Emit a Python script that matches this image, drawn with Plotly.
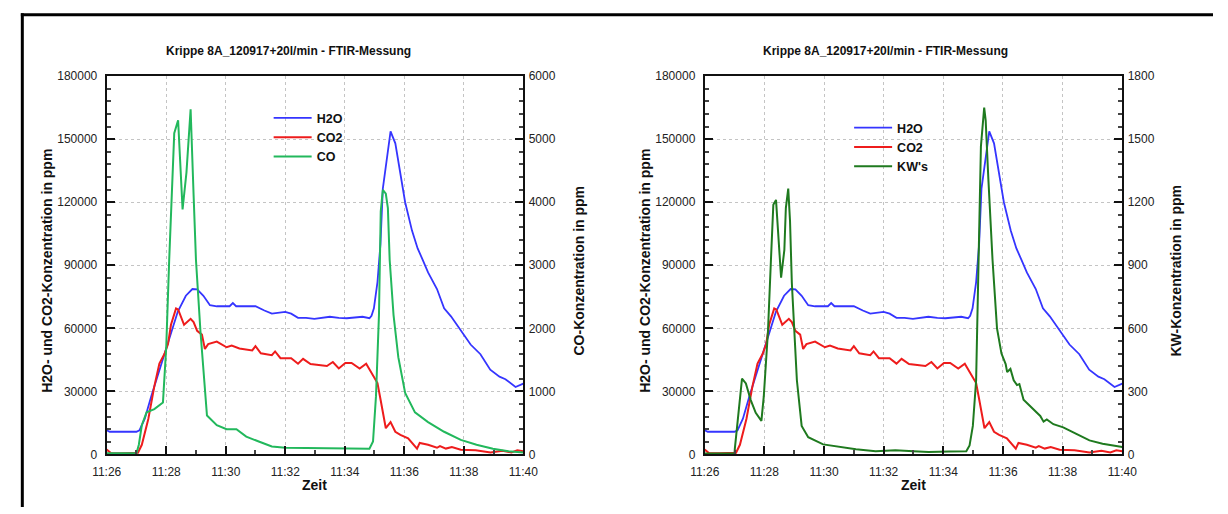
import pandas as pd
import plotly.graph_objects as go

# ---------------- data (minutes after 11:26, ppm) ----------------
BASE = pd.Timestamp("2012-09-17 11:26:00")

t_h2o = [0.0, 0.1, 0.5, 1.0, 1.1, 1.28, 1.5, 1.77, 2.06, 2.39, 2.66, 2.88, 3.04, 3.25, 3.47,
         3.7, 4.13, 4.24, 4.35, 5.0, 5.3, 5.55, 6.0, 6.2, 6.43, 6.7, 6.98, 7.5, 7.8, 8.07,
         8.6, 8.75, 8.83, 8.9, 8.98, 9.1, 9.2, 9.28, 9.4, 9.54, 9.7, 9.85, 10.03, 10.26,
         10.45, 10.62, 10.8, 11.1, 11.34, 11.57, 11.9, 12.23, 12.56, 12.89, 13.2, 13.4,
         13.74, 14.0]
h2o = [11500, 10800, 10800, 10800, 11500, 17000, 27800, 40000, 54000, 68000, 75500, 78700,
       78500, 75500, 71000, 70500, 70500, 72000, 70500, 70500, 68500, 67000, 67800, 67000,
       65000, 65000, 64500, 65500, 65000, 64800, 65500, 65000, 64800, 66000, 69500, 82000,
       100000, 126500, 140000, 153700, 148000, 135000, 120000, 106500, 98000, 92600, 86600,
       78700, 69500, 65700, 58800, 52300, 47700, 40300, 37000, 35800, 32100, 33700]

t_co2 = [0.0, 0.15, 0.5, 1.0, 1.05, 1.18, 1.4, 1.6, 1.77, 1.94, 2.06, 2.16, 2.33, 2.4, 2.6,
         2.82, 2.92, 3.04, 3.2, 3.3, 3.41, 3.7, 4.03, 4.2, 4.46, 4.89, 5.0, 5.18, 5.55, 5.66,
         5.84, 6.2, 6.43, 6.6, 6.85, 7.4, 7.6, 7.8, 8.02, 8.23, 8.5, 8.72, 8.95, 9.1, 9.2,
         9.38, 9.54, 9.7, 9.87, 10.13, 10.43, 10.52, 10.8, 11.1, 11.2, 11.4, 11.6, 11.9,
         12.4, 12.9, 13.3, 13.6, 13.8, 14.0]
co2 = [2300, 600, 600, 600, 800, 4600, 17000, 32400, 43200, 47800, 52500, 61700, 69500,
       69000, 61700, 64500, 63000, 58800, 57000, 50200, 52500, 53700, 51000, 51800, 50400,
       49500, 51500, 48100, 47200, 49000, 45800, 45800, 43200, 45500, 43000, 42100, 44000,
       40900, 43500, 43500, 40900, 43200, 37900, 34000, 26400, 12500, 15400, 10800, 9300,
       7700, 2800, 5500, 4600, 3200, 4000, 2800, 3500, 2300, 2000, 1000, 1800, 1000, 2000,
       1500]

t_co = [0.0, 1.0, 1.08, 1.18, 1.34, 1.6, 1.89, 2.0, 2.1, 2.16, 2.27, 2.4, 2.55, 2.68, 2.82,
        2.92, 3.0, 3.15, 3.37, 3.7, 4.03, 4.36, 4.69, 5.11, 5.55, 6.0, 7.0, 8.0, 8.83, 8.95,
        9.05, 9.15, 9.21, 9.28, 9.38, 9.45, 9.51, 9.64, 9.8, 10.03, 10.36, 10.8, 11.34,
        11.9, 12.43, 12.98, 13.5, 14.0]
co = [20, 20, 154, 463, 668, 720, 823, 1696, 3084, 3752, 5094, 5300, 3886, 4470, 5474,
      4117, 3084, 1958, 617, 463, 401, 401, 283, 205, 128, 108, 100, 90, 92, 205, 925, 2210,
      3855, 4194, 4137, 3906, 3084, 2210, 1542, 976, 668, 514, 360, 231, 154, 92, 50, 30]

t_kw = [0.0, 1.0, 1.01, 1.16, 1.25, 1.38, 1.54, 1.71, 1.9, 1.98, 2.12, 2.22, 2.3, 2.39, 2.46,
        2.56, 2.67, 2.72, 2.8, 2.86, 2.92, 3.09, 3.25, 3.47, 3.97, 4.52, 5.07, 5.73, 6.39,
        7.0, 7.5, 8.2, 8.77, 8.88, 8.99, 9.1, 9.17, 9.26, 9.37, 9.42, 9.51, 9.58, 9.65, 9.8,
        9.95, 10.09, 10.14, 10.25, 10.36, 10.47, 10.55, 10.69, 10.91, 11.25, 11.36, 11.47,
        11.69, 12.02, 12.46, 12.9, 13.34, 13.67, 14.0]
kw = [5, 5, 28, 229, 361, 338, 260, 198, 160, 276, 585, 925, 1188, 1211, 1033, 841, 973,
      1172, 1265, 1110, 818, 353, 136, 82, 48, 36, 25, 15, 20, 15, 12, 14, 15, 43, 136, 353,
      900, 1465, 1650, 1589, 1311, 1126, 925, 600, 480, 430, 392, 407, 353, 330, 335, 260,
      229, 183, 156, 167, 144, 129, 98, 67, 51, 43, 36]

x_tick_labels = ["11:26", "11:28", "11:30", "11:32", "11:34", "11:36", "11:38", "11:40"]
title_text = "Krippe 8A_120917+20l/min - FTIR-Messung"


def to_time(mins):
    return [BASE + pd.Timedelta(minutes=m) for m in mins]


# ---------------- layout helpers ----------------
W, H = 1228, 514
def fx(p):
    return p / W
def fy(p):
    return 1 - p / H

FONT = "Liberation Sans, Arial, sans-serif"
C_H2O, C_CO2, C_CO, C_KW = "#3535ff", "#ee1c1c", "#22b85c", "#1f7a1f"

fig = go.Figure()
fig.add_trace(go.Scatter(x=to_time(t_h2o), y=h2o, name="H2O", mode="lines",
                         line=dict(color=C_H2O, width=1.8), xaxis="x", yaxis="y", legend="legend"))
fig.add_trace(go.Scatter(x=to_time(t_co2), y=co2, name="CO2", mode="lines",
                         line=dict(color=C_CO2, width=2), xaxis="x", yaxis="y", legend="legend"))
fig.add_trace(go.Scatter(x=to_time(t_co), y=co, name="CO", mode="lines",
                         line=dict(color=C_CO, width=2), xaxis="x", yaxis="y2", legend="legend"))

fig.add_trace(go.Scatter(x=to_time(t_h2o), y=h2o, name="H2O", mode="lines",
                         line=dict(color=C_H2O, width=1.8), xaxis="x2", yaxis="y3", legend="legend2"))
fig.add_trace(go.Scatter(x=to_time(t_co2), y=co2, name="CO2", mode="lines",
                         line=dict(color=C_CO2, width=2), xaxis="x2", yaxis="y3", legend="legend2"))
fig.add_trace(go.Scatter(x=to_time(t_kw), y=kw, name="KW's", mode="lines",
                         line=dict(color=C_KW, width=2), xaxis="x2", yaxis="y4", legend="legend2"))

tickfont = dict(family=FONT, size=12, color="#222")
tickvals = [BASE + pd.Timedelta(minutes=2 * i) for i in range(len(x_tick_labels))]

def xax(domain, anchor):
    return dict(domain=domain, anchor=anchor, type="date",
                range=[BASE, BASE + pd.Timedelta(minutes=14)],
                tickvals=tickvals, ticktext=x_tick_labels,
                ticks="inside", ticklen=8, tickwidth=2, tickcolor="#111",
                minor=dict(dtick=60000, tick0=BASE, ticks="inside", ticklen=4, tickcolor="#444", showgrid=False),
                showline=True, linewidth=2, linecolor="#111", mirror=True,
                showgrid=True, gridcolor="#c4c4c4", griddash="dot", gridwidth=1,
                zeroline=False, tickfont=tickfont, ticklabelstandoff=5)

def yax(domain, anchor, rng, dtick, minor, side="left", overlaying=None, grid=True):
    d = dict(anchor=anchor, range=rng, dtick=dtick, tick0=0, tickformat="d", side=side,
             ticks="inside", ticklen=8, tickwidth=2, tickcolor="#111",
             minor=dict(dtick=minor, tick0=0, ticks="inside", ticklen=4, tickcolor="#444", showgrid=False),
             showline=True, linewidth=2, linecolor="#111",
             showgrid=grid, gridcolor="#c4c4c4", griddash="dot", gridwidth=1,
             zeroline=False, tickfont=tickfont,
             ticklabelstandoff=5 if side == "left" else 1)
    if overlaying:
        d["overlaying"] = overlaying
    else:
        d["domain"] = domain
    return d

ydom = [fy(460), fy(71)]
L = [fx(94), fx(521)]
R = [fx(707), fx(1135)]

legend_common = dict(font=dict(family=FONT, size=12.5, color="#111", weight="bold"),
                     bgcolor="rgba(0,0,0,0)", borderwidth=0, itemwidth=38,
                     xanchor="left", yanchor="top", tracegroupgap=0)

annotations = []
for cx in (280, 892):
    annotations.append(dict(x=fx(cx), y=fy(45), xref="paper", yref="paper", text="<b>" + title_text + "</b>",
                            showarrow=False, font=dict(family=FONT, size=12, color="#111"),
                            xanchor="center", yanchor="middle"))
for cx in ((94 + 521) / 2, (707 + 1135) / 2):
    annotations.append(dict(x=fx(cx), y=fy(491), xref="paper", yref="paper", text="<b>Zeit</b>",
                            showarrow=False, font=dict(family=FONT, size=14, color="#111"),
                            xanchor="center", yanchor="middle"))
for cx, txt in ((32, "H2O- und CO2-Konzentration in ppm"), (578, "CO-Konzentration in ppm"),
                (645, "H2O- und CO2-Konzentration in ppm"), (1190, "KW-Konzentration in ppm")):
    annotations.append(dict(x=fx(cx), y=fy(271), xref="paper", yref="paper", text="<b>" + txt + "</b>",
                            textangle=-90, showarrow=False, font=dict(family=FONT, size=14, color="#111"),
                            xanchor="center", yanchor="middle"))

shapes = [
    dict(type="line", xref="paper", yref="paper", x0=fx(6), x1=1, y0=fy(8), y1=fy(8),
         line=dict(color="black", width=3)),
    dict(type="line", xref="paper", yref="paper", x0=fx(7.5), x1=fx(7.5), y0=0, y1=fy(6.5),
         line=dict(color="black", width=3)),
]

fig.update_layout(
    width=W, height=H, margin=dict(l=0, r=0, t=0, b=0),
    paper_bgcolor="white", plot_bgcolor="white",
    xaxis=xax(L, "y"),
    yaxis=yax(ydom, "x", [0, 180000], 30000, 6000),
    yaxis2=yax(ydom, "x", [0, 6000], 1000, 200, side="right", overlaying="y", grid=False),
    xaxis2=xax(R, "y3"),
    yaxis3=yax(ydom, "x2", [0, 180000], 30000, 6000),
    yaxis4=yax(ydom, "x2", [0, 1800], 300, 60, side="right", overlaying="y3", grid=False),
    legend=dict(x=fx(260), y=fy(99), **legend_common),
    legend2=dict(x=fx(855), y=fy(109), **legend_common),
    annotations=annotations, shapes=shapes, showlegend=True,
)

fig.write_html("out.html")
